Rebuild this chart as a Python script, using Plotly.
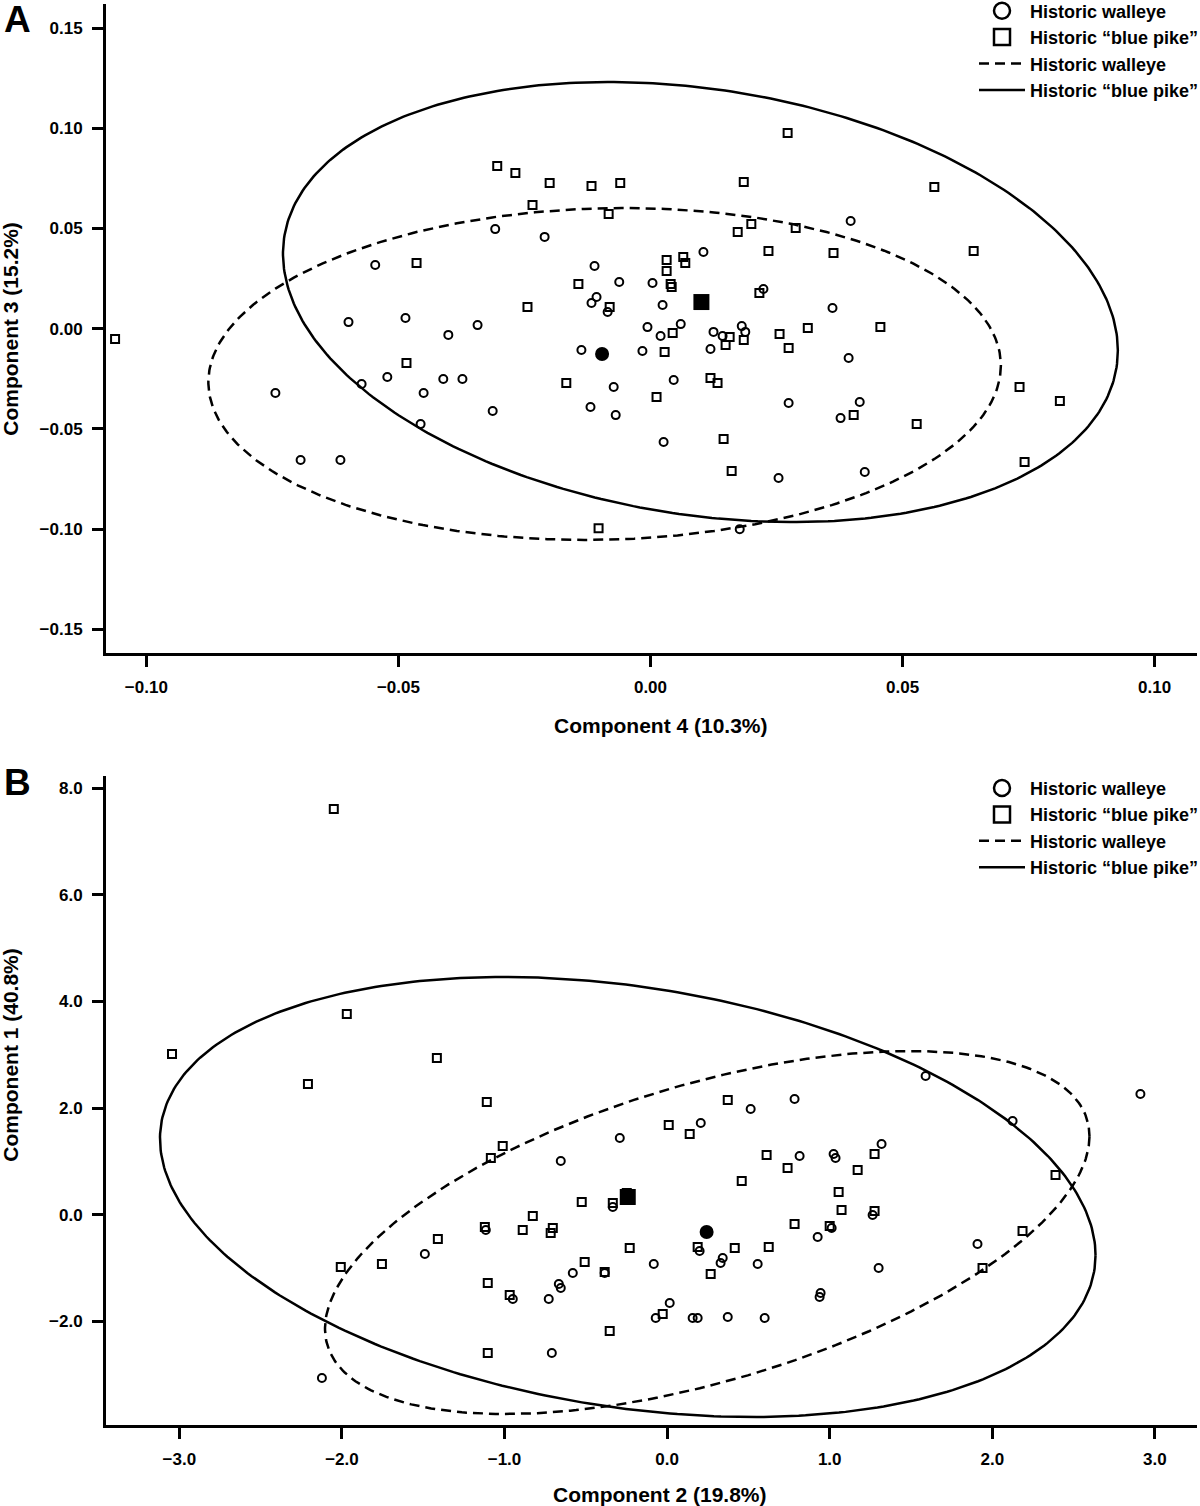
import numpy as np
import plotly.graph_objects as go

# ---------------- Panel A : Component 4 (x) vs Component 3 (y) ----------------
walleye_A_x = [-0.0546, -0.0599, -0.0486, -0.0343, -0.0401, -0.0308, -0.0210, -0.0111, -0.0062, 0.0004,
               -0.0107, -0.0117, -0.0085, 0.0024, 0.0105, 0.0224, -0.0006, 0.0060, 0.0020, 0.0125,
               0.0143, 0.0181, 0.0188, 0.0361, 0.0397, -0.0137, -0.0016, 0.0119, 0.0393, -0.0744,
               -0.0573, -0.0522, -0.0411, -0.0373, -0.0450, -0.0313, -0.0456, -0.0073, -0.0119, -0.0069,
               0.0046, 0.0026, 0.0274, 0.0254, 0.0177, 0.0415, 0.0377, 0.0425, -0.0694, -0.0615]
walleye_A_y = [0.0318, 0.0033, 0.0053, 0.0018, -0.0031, 0.0497, 0.0458, 0.0313, 0.0233, 0.0228,
               0.0158, 0.0128, 0.0083, 0.0118, 0.0383, 0.0198, 0.0008, 0.0023, -0.0036, -0.0016,
               -0.0036, 0.0013, -0.0016, 0.0103, 0.0537, -0.0106, -0.0111, -0.0101, -0.0146, -0.0321,
               -0.0276, -0.0241, -0.0251, -0.0251, -0.0321, -0.0411, -0.0476, -0.0291, -0.0391, -0.0431,
               -0.0256, -0.0565, -0.0371, -0.0745, -0.1000, -0.0366, -0.0446, -0.0715, -0.0655, -0.0655]
bluepike_A_x = [-0.1062, -0.0304, -0.0268, -0.0200, -0.0117, -0.0060, 0.0185, 0.0272, 0.0563, -0.0234,
                -0.0083, -0.0464, 0.0032, 0.0032, 0.0065, 0.0069, 0.0173, 0.0200, 0.0234, 0.0288,
                0.0363, 0.0641, -0.0143, 0.0040, 0.0042, 0.0216, -0.0244, -0.0081, 0.0044, 0.0157,
                0.0185, 0.0149, 0.0256, 0.0274, 0.0312, 0.0456, -0.0484, 0.0028, -0.0167, 0.0119,
                0.0133, 0.0012, 0.0145, 0.0161, -0.0103, 0.0732, 0.0812, 0.0403, 0.0528, 0.0742]
bluepike_A_y = [-0.0051, 0.0812, 0.0777, 0.0727, 0.0712, 0.0727, 0.0732, 0.0977, 0.0707, 0.0617,
                0.0572, 0.0328, 0.0343, 0.0288, 0.0358, 0.0328, 0.0483, 0.0522, 0.0388, 0.0502,
                0.0378, 0.0388, 0.0223, 0.0223, 0.0208, 0.0178, 0.0108, 0.0108, -0.0021, -0.0041,
                -0.0056, -0.0081, -0.0026, -0.0096, 0.0003, 0.0008, -0.0171, -0.0116, -0.0271, -0.0246,
                -0.0271, -0.0341, -0.0550, -0.0710, -0.0995, -0.0291, -0.0361, -0.0431, -0.0476, -0.0665]
mean_A_x = [-0.0096, 0.0101]   # walleye, blue pike
mean_A_y = [-0.0126, 0.0133]
# ellipse: centre x, centre y, half-extent x, half-extent y, correlation
ellipse_A_walleye = [-0.0091, -0.0226, 0.0786, 0.0828, 0.05]
ellipse_A_bluepike = [0.0099, 0.0133, 0.0828, 0.1098, -0.22]

# ---------------- Panel B : Component 2 (x) vs Component 1 (y) ----------------
walleye_B_x = [1.590, 2.125, 2.911, 0.514, 0.784, 0.207, -0.291, -0.654, 0.815, 1.024,
               1.036, 1.319, -0.334, -1.115, -1.490, -0.580, -0.384, -0.666, -0.654, -0.949,
               -0.728, -0.082, 0.200, 0.329, 0.342, 0.557, 0.016, -0.070, 0.157, 0.188,
               0.373, 0.600, -0.709, -2.123, 1.264, 1.012, 0.926, 1.301, 0.944, 0.938, 1.909]
walleye_B_y = [2.602, 1.758, 2.264, 1.983, 2.171, 1.721, 1.440, 1.008, 1.102, 1.140,
               1.065, 1.327, 0.146, -0.285, -0.735, -1.091, -1.091, -1.297, -1.372, -1.578,
               -1.578, -0.922, -0.679, -0.903, -0.810, -0.922, -1.653, -1.934, -1.934, -1.934,
               -1.916, -1.934, -2.590, -3.059, -0.004, -0.247, -0.416, -0.997, -1.466, -1.541, -0.547]
bluepike_B_x = [-2.050, -1.970, -3.045, -2.209, -1.416, -1.109, 0.373, 0.010, 0.139, -1.011,
                -1.084, 0.612, 0.741, 0.459, -0.525, -0.334, -0.248, -0.826, -1.121, -0.888,
                -0.703, -0.716, -1.410, -0.230, -0.507, -0.384, -1.103, -0.968, -0.027, -0.353,
                -1.103, 0.188, 0.416, 0.625, 0.268, 0.784, 1.276, 1.172, 1.055, 1.073,
                1.276, 1.000, 2.389, 2.186, 1.940, -2.007, -1.754]
bluepike_B_y = [7.606, 3.764, 3.014, 2.452, 2.939, 2.114, 2.152, 1.683, 1.515, 1.290,
                1.065, 1.121, 0.877, 0.634, 0.240, 0.221, 0.409, -0.022, -0.229, -0.285,
                -0.247, -0.341, -0.454, -0.622, -0.885, -1.072, -1.278, -1.503, -1.859, -2.178,
                -2.590, -0.604, -0.622, -0.604, -1.110, -0.172, 1.140, 0.840, 0.427, 0.090,
                0.071, -0.210, 0.746, -0.304, -0.997, -0.978, -0.922]
mean_B_x = [0.243, -0.242]   # walleye, blue pike
mean_B_y = [-0.322, 0.334]
ellipse_B_walleye = [0.247, -0.332, 2.351, 3.402, 0.53]
ellipse_B_bluepike = [-0.242, 0.334, 2.877, 4.124, -0.265]

# tick values
ticks_A_x = [-0.10, -0.05, 0.00, 0.05, 0.10]
ticks_A_y = [-0.15, -0.10, -0.05, 0.00, 0.05, 0.10, 0.15]
ticks_B_x = [-3.0, -2.0, -1.0, 0.0, 1.0, 2.0, 3.0]
ticks_B_y = [-2.0, 0.0, 2.0, 4.0, 6.0, 8.0]

LEG_WALLEYE = "Historic walleye"
LEG_BLUEPIKE = "Historic \u201cblue pike\u201d"
FONT = "Liberation Sans, Arial, Helvetica, sans-serif"


def ellipse(p):
    cx, cy, rx, ry, rho = p
    t = np.linspace(0, 2 * np.pi, 400)
    phi = np.arccos(rho)
    return cx + rx * np.cos(t), cy + ry * np.cos(t + phi)


fig = go.Figure()


def add_panel(xa, ya, leg, wx, wy, bx, by, mx, my, ew, eb):
    # legend-only symbols
    fig.add_trace(go.Scatter(x=[None], y=[None], mode="markers", name=LEG_WALLEYE,
                             marker=dict(symbol="circle-open", size=16, color="black",
                                         line=dict(width=2.5, color="black")),
                             xaxis=xa, yaxis=ya, legend=leg))
    fig.add_trace(go.Scatter(x=[None], y=[None], mode="markers", name=LEG_BLUEPIKE,
                             marker=dict(symbol="square-open", size=16, color="black",
                                         line=dict(width=2.5, color="black")),
                             xaxis=xa, yaxis=ya, legend=leg))
    exw, eyw = ellipse(ew)
    exb, eyb = ellipse(eb)
    fig.add_trace(go.Scatter(x=exw, y=eyw, mode="lines", name=LEG_WALLEYE,
                             line=dict(color="black", width=2.5, dash="10px,6px"),
                             xaxis=xa, yaxis=ya, legend=leg))
    fig.add_trace(go.Scatter(x=exb, y=eyb, mode="lines", name=LEG_BLUEPIKE,
                             line=dict(color="black", width=2.5),
                             xaxis=xa, yaxis=ya, legend=leg))
    fig.add_trace(go.Scatter(x=wx, y=wy, mode="markers", showlegend=False,
                             marker=dict(symbol="circle-open", size=8, color="black",
                                         line=dict(width=2, color="black")),
                             xaxis=xa, yaxis=ya))
    fig.add_trace(go.Scatter(x=bx, y=by, mode="markers", showlegend=False,
                             marker=dict(symbol="square-open", size=8, color="black",
                                         line=dict(width=2, color="black")),
                             xaxis=xa, yaxis=ya))
    fig.add_trace(go.Scatter(x=[mx[0]], y=[my[0]], mode="markers", showlegend=False,
                             marker=dict(symbol="circle", size=14, color="black"),
                             xaxis=xa, yaxis=ya))
    fig.add_trace(go.Scatter(x=[mx[1]], y=[my[1]], mode="markers", showlegend=False,
                             marker=dict(symbol="square", size=16, color="black"),
                             xaxis=xa, yaxis=ya))


add_panel("x", "y", "legend", walleye_A_x, walleye_A_y, bluepike_A_x, bluepike_A_y,
          mean_A_x, mean_A_y, ellipse_A_walleye, ellipse_A_bluepike)
add_panel("x2", "y2", "legend2", walleye_B_x, walleye_B_y, bluepike_B_x, bluepike_B_y,
          mean_B_x, mean_B_y, ellipse_B_walleye, ellipse_B_bluepike)

W, H = 1200, 1506
axis_common = dict(showline=True, linecolor="black", linewidth=3, ticks="outside",
                   ticklen=11, tickwidth=3, tickcolor="black", showgrid=False,
                   zeroline=False, mirror=False,
                   tickfont=dict(family=FONT, size=17, color="black", weight="bold"))
xdom = [106 / W, 1196.5 / W]
domA = [1 - 653 / H, 1 - 4 / H]
domB = [1 - 1425 / H, 1 - 776 / H]

legend_common = dict(font=dict(family=FONT, size=18, color="black", weight="bold"),
                     itemwidth=46, bgcolor="rgba(0,0,0,0)", borderwidth=0,
                     tracegroupgap=0, xanchor="left", yanchor="top", itemsizing="trace")

title_font = dict(family=FONT, size=21, color="black", weight="bold")
label_font = dict(family=FONT, size=37, color="black", weight="bold")

fig.update_layout(
    width=W, height=H, margin=dict(l=0, r=0, t=0, b=0, autoexpand=False),
    paper_bgcolor="white", plot_bgcolor="white",
    xaxis=dict(domain=xdom, anchor="y", range=[-0.108, 0.1083], tickvals=ticks_A_x,
               tickformat=".2f", ticklabelstandoff=6, **axis_common),
    yaxis=dict(domain=domA, anchor="x", range=[-0.1618, 0.1620], tickvals=ticks_A_y,
               tickformat=".2f", ticklabelstandoff=6, **axis_common),
    xaxis2=dict(domain=xdom, anchor="y2", range=[-3.451, 3.256], tickvals=ticks_B_x,
                tickformat=".1f", ticklabelstandoff=6, **axis_common),
    yaxis2=dict(domain=domB, anchor="x2", range=[-3.940, 8.225], tickvals=ticks_B_y,
                tickformat=".1f", ticklabelstandoff=6, **axis_common),
    legend=dict(x=974 / W, y=1 + 7.5 / H, **legend_common),
    legend2=dict(x=974 / W, y=1 - 769.8 / H, **legend_common),
    showlegend=True,
    annotations=[
        dict(text="A", xref="paper", yref="paper", x=17 / W, y=1 - 20 / H,
             xanchor="center", yanchor="middle", showarrow=False, font=label_font),
        dict(text="B", xref="paper", yref="paper", x=17 / W, y=1 - 782 / H,
             xanchor="center", yanchor="middle", showarrow=False, font=label_font),
        dict(text="Component 4 (10.3%)", xref="x", yref="paper", x=0.002, y=1 - 725 / H,
             xanchor="center", yanchor="middle", showarrow=False, font=title_font),
        dict(text="Component 3 (15.2%)", xref="paper", yref="y", x=11 / W, y=0.0,
             xanchor="center", yanchor="middle", textangle=-90, showarrow=False, font=title_font),
        dict(text="Component 2 (19.8%)", xref="x2", yref="paper", x=-0.042, y=1 - 1494 / H,
             xanchor="center", yanchor="middle", showarrow=False, font=title_font),
        dict(text="Component 1 (40.8%)", xref="paper", yref="y2", x=11 / W, y=3.0,
             xanchor="center", yanchor="middle", textangle=-90, showarrow=False, font=title_font),
    ],
)

fig.write_html("out.html", config={"displayModeBar": False},
               post_script="document.body.style.margin='0px';")
